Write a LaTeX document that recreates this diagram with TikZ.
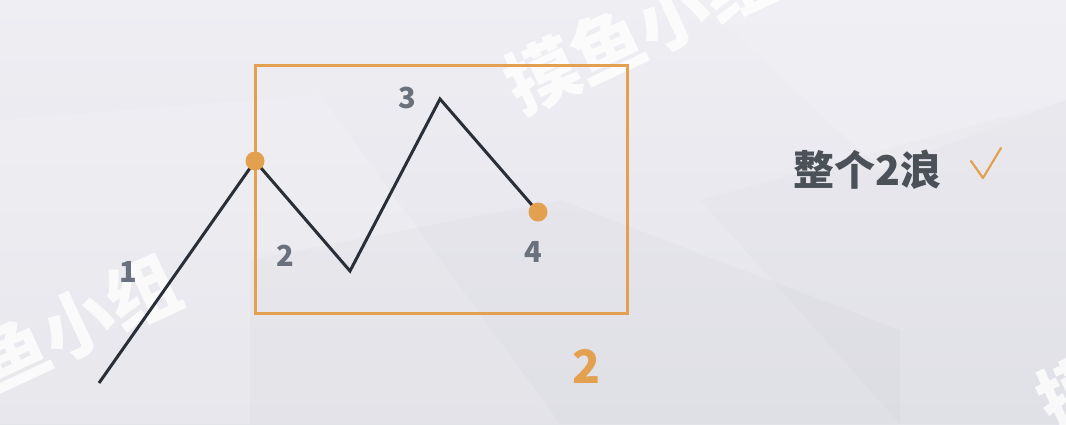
\documentclass[tikz,border=0pt]{standalone}
\usepackage{fontspec}
\newfontfamily\cjk{Noto Sans CJK SC}
\definecolor{orng}{HTML}{E3A150}
\definecolor{wave}{HTML}{2A2F37}
\definecolor{lbl}{HTML}{6A707C}
\definecolor{txt}{HTML}{4B5059}
\definecolor{bgtop}{HTML}{EEEEF3}
\definecolor{bgbot}{HTML}{E3E3EA}
\tikzset{
  wavepath/.style={draw=wave, line width=3pt, line join=miter},
  dotnode/.style={circle, fill=orng, inner sep=0pt, minimum size=19pt},
  numlbl/.style={font=\cjk\bfseries\fontsize{29}{29}\selectfont, text=lbl, inner sep=0pt},
  wmark/.style={font=\cjk\bfseries\fontsize{72}{72}\selectfont, text=white, opacity=0.8, inner sep=0pt, rotate=25},
}
\begin{document}
\begin{tikzpicture}[x=1pt,y=-1pt]
\useasboundingbox (0,0) rectangle (1066,424);
\begin{scope}
\clip (0,0) rectangle (1066,424);
\shade[top color=bgtop, bottom color=bgbot] (0,0) rectangle (1066,424);
% faint background polygons
\fill[white, opacity=0.15] (0,120) -- (320,95) -- (560,424) -- (0,424) -- cycle;
\fill[black, opacity=0.015] (250,260) -- (560,200) -- (900,330) -- (900,424) -- (250,424) -- cycle;
\fill[black, opacity=0.012] (700,200) -- (1066,100) -- (1066,424) -- (900,424) -- cycle;
\fill[white, opacity=0.15] (700,0) -- (1066,0) -- (1066,100) -- (880,170) -- cycle;
% watermarks
\node[wmark] (wm1) at (640,30) {摸鱼小组};
\node[wmark] (wm2) at (45,338) {摸鱼小组};
\node[wmark] (wm3) at (1172,347) {摸鱼小组};
\end{scope}
% box
\node[draw=orng, line width=3pt, inner sep=0pt, minimum width=372pt, minimum height=248pt] (box) at (441,189) {};
% wave points
\coordinate (p0) at (99,383);
\coordinate (p1) at (255,161);
\coordinate (p2) at (350,271);
\coordinate (p3) at (440,99);
\coordinate (p4) at (538,212);
\draw[wavepath] (p0) -- (p1) -- (p2) -- (p3) -- (p4);
\node[dotnode] (d1) at (p1) {};
\node[dotnode] (d4) at (p4) {};
% labels
\node[numlbl] (l1) at (128,272) {1};
\node[numlbl] (l2) at (285,256) {2};
\node[numlbl] (l3) at (407,98) {3};
\node[numlbl] (l4) at (533,252) {4};
\node[font=\cjk\bfseries\fontsize{46}{46}\selectfont, text=orng, inner sep=0pt] (big2) at (587,366) {2};
\node[font=\cjk\bfseries\fontsize{41}{41}\selectfont, text=txt, inner sep=0pt, anchor=west] (title) at (793,170) {整个2浪};
% check mark
\coordinate (c0) at (971,161);
\coordinate (c1) at (983,178);
\coordinate (c2) at (1001,148);
\draw[orng, line width=2.2pt, line cap=round, line join=round] (c0) -- (c1) -- (c2);
\end{tikzpicture}
\end{document}
